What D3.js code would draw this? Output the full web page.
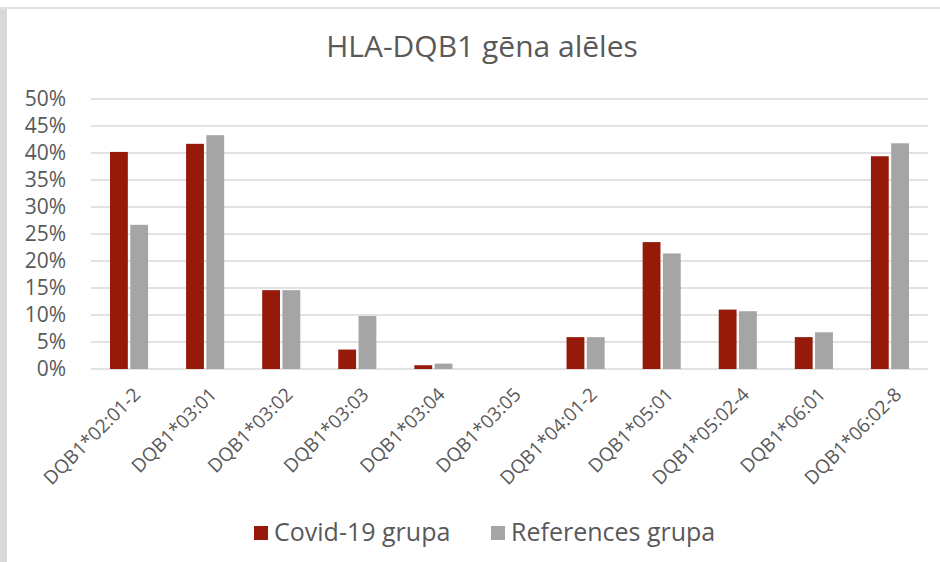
<!DOCTYPE html>
<html>
<head>
<meta charset="utf-8">
<script src="https://cdn.jsdelivr.net/npm/d3@7"></script>
<style>
  body { margin: 0; background: #fff; }
  text { font-family: "Open Sans", sans-serif; fill: #595959; }
</style>
</head>
<body>
<div id="chart"></div>
<script>
// data
var categories = ["DQB1*02:01-2", "DQB1*03:01", "DQB1*03:02", "DQB1*03:03", "DQB1*03:04",
                  "DQB1*03:05", "DQB1*04:01-2", "DQB1*05:01", "DQB1*05:02-4", "DQB1*06:01", "DQB1*06:02-8"];
var covid = [0.402, 0.417, 0.146, 0.036, 0.007, 0, 0.059, 0.235, 0.110, 0.059, 0.394];
var reference = [0.267, 0.433, 0.146, 0.098, 0.010, 0, 0.059, 0.214, 0.107, 0.068, 0.418];
var seriesNames = ["Covid-19 grupa", "References grupa"];
var colors = ["#951a0a", "#a5a5a5"];
var yTicks = [0, 0.05, 0.1, 0.15, 0.2, 0.25, 0.3, 0.35, 0.4, 0.45, 0.5];

var W = 940, H = 562;
var margin = {top: 99, right: 12, bottom: 193, left: 91},
    width = W - margin.left - margin.right,
    height = H - margin.top - margin.bottom;

var svg = d3.select("#chart").append("svg")
    .attr("width", W)
    .attr("height", H);

// frame: grey strip on the left, thin line on top
svg.append("rect").attr("x", 0).attr("y", 8).attr("width", 7).attr("height", H - 8).attr("fill", "#d9d9d9");
svg.append("rect").attr("x", 0).attr("y", 7).attr("width", W).attr("height", 2).attr("fill", "#e3e3e3");

svg.append("text")
    .attr("x", 482)
    .attr("y", 57)
    .attr("text-anchor", "middle")
    .style("font-size", "30px")
    .text("HLA-DQB1 gēna alēles");

var g = svg.append("g")
    .attr("transform", "translate(" + margin.left + "," + margin.top + ")");

var x0 = d3.scaleBand().domain(categories).range([0, width]).padding(0);
var x1 = d3.scaleBand().domain([0, 1]).range([19, x0.bandwidth() - 19]).paddingInner(0.12);
var y = d3.scaleLinear().domain([0, 0.5]).range([height, 0]);

// gridlines
g.selectAll(".grid")
    .data(yTicks)
    .enter().append("line")
    .attr("x1", 0).attr("x2", width)
    .attr("y1", function(d) { return y(d); })
    .attr("y2", function(d) { return y(d); })
    .attr("stroke", "#d9d9d9")
    .attr("stroke-width", 1.5);

// y axis labels
var yAxis = g.append("g")
    .call(d3.axisLeft(y).tickValues(yTicks).tickFormat(d3.format(".0%")).tickSize(0).tickPadding(25));
yAxis.select(".domain").remove();
yAxis.selectAll("text")
    .style("font-size", "21px")
    .style("font-family", "\"Open Sans\", sans-serif")
    .attr("fill", "#595959");

// bars
var groups = g.selectAll(".cat")
    .data(categories)
    .enter().append("g")
    .attr("transform", function(d) { return "translate(" + x0(d) + ",0)"; });

groups.selectAll("rect")
    .data(function(d, i) { return [covid[i], reference[i]]; })
    .enter().append("rect")
    .attr("x", function(d, j) { return x1(j); })
    .attr("width", x1.bandwidth())
    .attr("y", function(d) { return y(d); })
    .attr("height", function(d) { return height - y(d); })
    .attr("fill", function(d, j) { return colors[j]; });

// x axis labels
var xAxis = g.append("g")
    .attr("transform", "translate(0," + height + ")")
    .call(d3.axisBottom(x0).tickSize(0).tickPadding(0));
xAxis.select(".domain").remove();
xAxis.selectAll("text")
    .style("font-size", "19px")
    .style("font-family", "\"Open Sans\", sans-serif")
    .attr("fill", "#595959")
    .attr("text-anchor", "end")
    .attr("dy", "0.35em")
    .attr("transform", "translate(8,22) rotate(-45)");

// legend
var legend = svg.append("g");
var legendX = [254, 491];
seriesNames.forEach(function(name, i) {
  legend.append("rect")
      .attr("x", legendX[i]).attr("y", 526)
      .attr("width", 14).attr("height", 14)
      .attr("fill", colors[i]);
  legend.append("text")
      .attr("x", legendX[i] + 20).attr("y", 541)
      .style("font-size", "25px")
      .text(name);
});
</script>
</body>
</html>
